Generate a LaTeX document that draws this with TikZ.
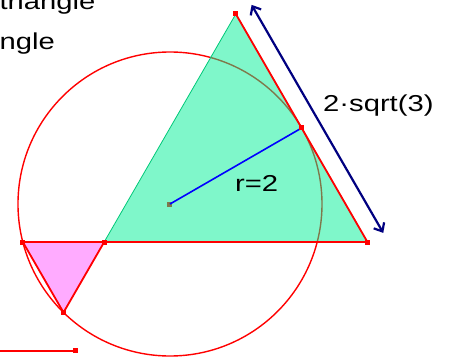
\documentclass[tikz,border=0pt]{standalone}
\usepackage{fontspec}
\newfontfamily\labelfont[FakeStretch=1.27]{Liberation Sans}
\definecolor{greenfill}{RGB}{0,240,150}
\definecolor{greenedge}{RGB}{0,200,120}
\definecolor{pinkfill}{RGB}{255,0,255}
\definecolor{arrownavy}{RGB}{0,0,128}
\usetikzlibrary{arrows.meta, calc}

\begin{document}
\begin{tikzpicture}[
    x=76pt, y=76pt,
    font=\labelfont\fontsize{23}{27}\selectfont,
    seg/.style={red, line width=1.8pt},
    vtx/.style={
        rectangle, fill=red, inner sep=0pt, minimum size=5pt,
    },
    bigtri/.style={
        fill=greenfill, fill opacity=0.5, draw=greenedge, line width=0.8pt,
    },
    smalltri/.style={
        fill=pinkfill, fill opacity=0.33, draw=pinkfill!70, line width=0.8pt,
    },
    radius line/.style={blue, line width=1.6pt},
    dimarr/.style={
        {Straight Barb[length=7pt, width=12pt]}-{Straight Barb[length=7pt, width=12pt]},
        arrownavy, line width=2.2pt,
    },
    lbl/.style={inner sep=0pt, anchor=base west},
]

% -- frame --
\useasboundingbox (-2.2368,-2) rectangle (3.7105,2.6842);
\clip (-2.2368,-2) rectangle (3.7105,2.6842);

% -- points --
\coordinate (O) at (0,0);
\coordinate (B) at ({-sqrt(3)/2},-0.5);
\coordinate (R) at ({1.5*sqrt(3)},-0.5);
\coordinate (Tp) at ({sqrt(3)/2},2.5);
\coordinate (A) at ({-sqrt(3.75)},-0.5);
\coordinate (C) at ({(-sqrt(3.75)-sqrt(3)/2)/2},{-0.5-(sqrt(3.75)-sqrt(3)/2)*sqrt(3)/2});
\coordinate (T) at ({sqrt(3)},1);
\coordinate (a1) at ($(Tp)+(30:0.24)$);
\coordinate (a2) at ($(R)+(30:0.24)$);
\coordinate (s0) at (-2.4,-1.934);
\coordinate (s1) at (-1.237,-1.934);

% -- circle and centre --
\draw[red, line width=1.4pt] (O) circle (2);
\node[vtx] (pO) at (O) {};

% -- triangles --
\filldraw[bigtri] (B) -- (Tp) -- (R) -- cycle;
\filldraw[smalltri] (A) -- (B) -- (C) -- cycle;

\draw[seg] (A) -- (R);
\draw[seg] (Tp) -- (R);
\draw[seg] (A) -- (C);
\draw[seg] (B) -- (C);

% -- radius --
\draw[radius line] (pO.center) -- (T);

\node[vtx] (pA) at (A) {};
\node[vtx] (pB) at (B) {};
\node[vtx] (pC) at (C) {};
\node[vtx] (pR) at (R) {};
\node[vtx] (pTp) at (Tp) {};
\node[vtx] (pT) at (T) {};

% -- side length --
\draw[dimarr] (a1) -- (a2);

% -- slider --
\draw[seg] (s0) -- (s1);
\node[vtx] (ps1) at (s1) {};

% -- labels --
\node[lbl] (lr) at (0.855,0.171) {r=2};
\node[lbl] (ls) at (2.013,1.214) {2·sqrt(3)};
\node[lbl] (lt1) at (-2.245,2.553) {triangle};
\node[lbl] (lt2) at (-2.245,2.039) {ngle};

\end{tikzpicture}
\end{document}
